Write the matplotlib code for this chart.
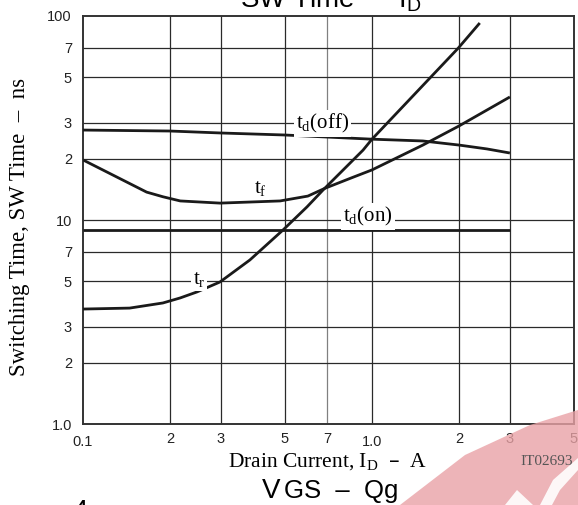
import numpy as np
import matplotlib
matplotlib.use("Agg")
import matplotlib.pyplot as plt
from matplotlib.patches import Polygon

plt.rcParams["font.family"] = ["Liberation Sans", "DejaVu Sans"]
plt.rcParams["mathtext.default"] = "regular"

# switching times vs drain current (A -> ns)
id_doff = [0.1, 0.2, 0.3, 0.5, 0.7, 1.0, 1.5, 2.0, 2.5, 3.0]
t_doff = [27.6, 27.3, 26.7, 26.1, 25.5, 24.9, 24.4, 23.3, 22.3, 21.3]

id_f = [0.1, 0.127, 0.166, 0.189, 0.217, 0.298, 0.481, 0.6, 0.687, 0.85, 1.0, 1.5, 2.0, 3.0]
t_f = [19.7, 16.6, 13.7, 13.0, 12.4, 12.1, 12.4, 13.1, 14.3, 16.1, 17.6, 23.3, 28.9, 40.1]

id_r = [0.1, 0.145, 0.189, 0.217, 0.248, 0.298, 0.378, 0.492, 0.596, 0.676, 0.931, 1.0, 1.99, 2.36]
t_r = [3.66, 3.70, 3.92, 4.15, 4.44, 4.97, 6.37, 8.93, 11.6, 14.0, 22.0, 24.9, 69.7, 92.4]

id_don = [0.1, 3.0]
t_don = [8.9, 8.9]

xticks = [0.1, 0.2, 0.3, 0.5, 0.7, 1.0, 2, 3, 5]
xlabels = ["0.1", "2", "3", "5", "7", "1.0", "2", "3", "5"]
yticks = [1, 2, 3, 5, 7, 10, 20, 30, 50, 70, 100]
ylabels = ["1.0", "2", "3", "5", "7", "10", "2", "3", "5", "7", "100"]

W, H = 578, 505
fig = plt.figure(figsize=(W / 100, H / 100), dpi=100)
ax = fig.add_axes([83 / W, 81 / H, 491 / W, 408 / H])
ax.set_xscale("log")
ax.set_yscale("log")
ax.set_xlim(0.1, 5)
ax.set_ylim(1, 100)

# grid
for v in xticks[1:-1]:
    ax.axvline(v, color="#808080" if v == 0.7 else "#2a2a2a", lw=0.9, zorder=1)
for v in yticks[1:-1]:
    ax.axhline(v, color="#2a2a2a", lw=0.9, zorder=1)

kw = dict(color="#1a1a1a", lw=2.0, solid_capstyle="butt", zorder=3)
ax.plot(id_doff, t_doff, **kw)
ax.plot(id_f, t_f, **kw)
ax.plot(id_r, t_r, **kw)
ax.plot(id_don, t_don, **kw)

for s in ax.spines.values():
    s.set_linewidth(1.4)
    s.set_color("#333333")

ax.set_yticks(yticks)
ax.set_yticklabels(ylabels)
ax.yaxis.set_minor_locator(matplotlib.ticker.NullLocator())
ax.xaxis.set_minor_locator(matplotlib.ticker.NullLocator())
ax.tick_params(axis="y", length=0, pad=8, labelsize=10.5, labelcolor="#222222")
ax.set_xticks(xticks)
ax.set_xticklabels([])
ax.tick_params(axis="x", length=0)
tr_x = ax.get_xaxis_transform()
for v, lab in zip(xticks, xlabels):
    dy = -0.027 if lab in ("0.1", "1.0") else -0.019
    ax.text(v, dy, lab, transform=tr_x, ha="center", va="top",
            fontsize=10.5, color="#222222")

# curve labels
serif = ["Liberation Serif", "DejaVu Serif"]
box = dict(facecolor="white", edgecolor="none", pad=1.5)
lab_kw = dict(family=serif, fontsize=15, ha="center", va="center", zorder=4, bbox=box)
ax.text(0.675, 29.6, r"t$_d$(off)", **lab_kw)
ax.text(0.41, 14.3, r"t$_f$", **lab_kw)
ax.text(0.968, 10.4, r"t$_d$(on)", **lab_kw)
ax.text(0.252, 5.1, r"t$_r$", **lab_kw)

fig.text(328 / W, 1 - 467 / H, r"Drain Current, I$_D$  –  A", family=serif,
         fontsize=15.5, ha="center", va="baseline")
fig.text(20 / W, 1 - 227 / H, "Switching Time, SW Time  –  ns", family=serif,
         fontsize=16.5, rotation=90, ha="center", va="center")

# watermark, behind the page text
def px(pts):
    return [(x / W, 1 - y / H) for x, y in pts]

wm = "#e9a2a6"
fig.add_artist(Polygon(px([(400, 505), (465, 455), (530, 425), (578, 410), (578, 505)]),
                       closed=True, facecolor=wm, edgecolor="none", alpha=0.8,
                       transform=fig.transFigure, zorder=1))
for pts in ([(505, 505), (517, 490), (533, 505)],
            [(540, 505), (553, 480), (578, 458), (578, 470), (560, 490), (552, 505)]):
    fig.add_artist(Polygon(px(pts), closed=True, facecolor="white", edgecolor="none",
                           alpha=0.9, transform=fig.transFigure, zorder=1.5))

fig.text(573 / W, 1 - 465 / H, "IT02693", family=serif, fontsize=11,
         color="#555555", ha="right", va="baseline", zorder=3)

# page titles cut by the crop
fig.text(240 / W, 1 - 7.5 / H, r"SW Time  –  I$_D$", fontsize=20, va="baseline")
fig.text(262 / W, 1 - 498 / H, "V", fontsize=20, va="baseline")
fig.text(284 / W, 1 - 498 / H, "GS  –  Qg", fontsize=18.5, va="baseline")
fig.text(72 / W, 1 - 499 / H, "4", fontsize=20, va="top")

fig.savefig("out.png", dpi=100)
